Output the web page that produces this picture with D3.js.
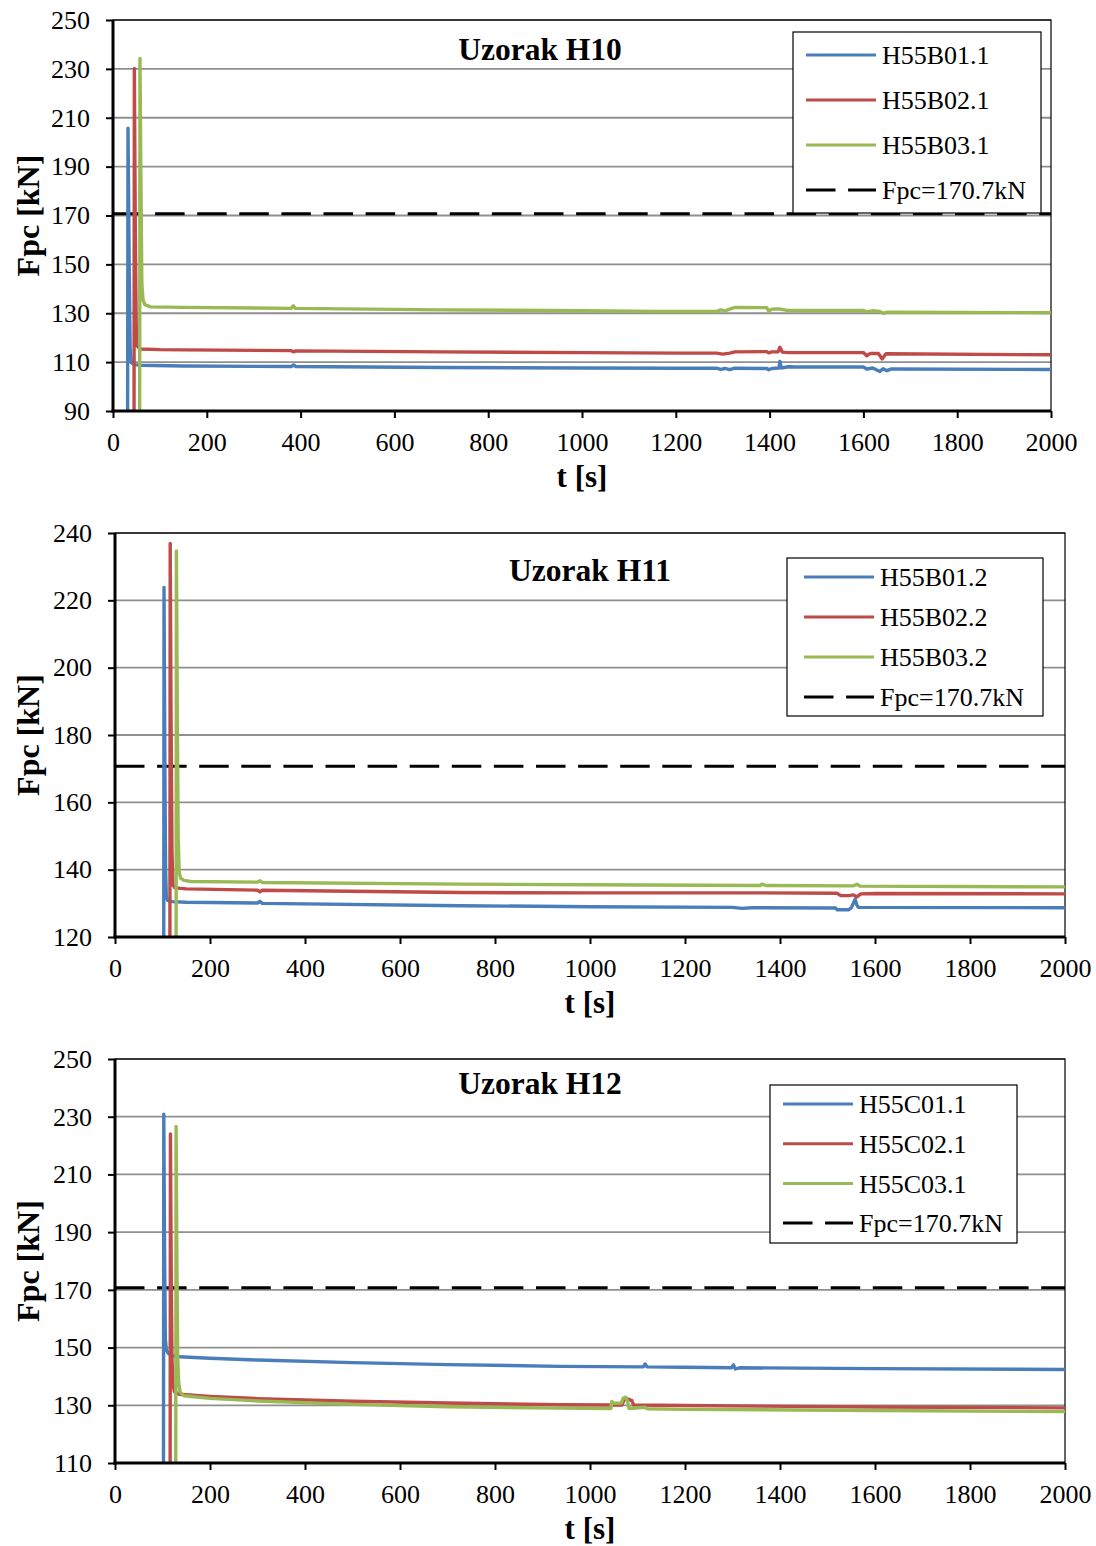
<!DOCTYPE html>
<html><head><meta charset="utf-8">
<script src="https://cdn.jsdelivr.net/npm/d3@7"></script>
<style>
body{margin:0;background:#fff}
svg text{font-family:"Liberation Serif","Times New Roman",serif;fill:#000}
</style>
</head><body>
<svg id="chart" width="1096" height="1546"></svg>
<script>
// ---------- data ----------
const xTicks = [0,200,400,600,800,1000,1200,1400,1600,1800,2000];
const yTicksH10 = [90,110,130,150,170,190,210,230,250];
const yTicksH11 = [120,140,160,180,200,220,240];
const yTicksH12 = [110,130,150,170,190,210,230,250];
const fpc = 170.7;
const fpcLabel = "Fpc=170.7kN";
const titles = ["Uzorak H10","Uzorak H11","Uzorak H12"];
const namesH10 = ["H55B01.1","H55B02.1","H55B03.1"];
const namesH11 = ["H55B01.2","H55B02.2","H55B03.2"];
const namesH12 = ["H55C01.1","H55C02.1","H55C03.1"];
const colors = ["#4a7ebb","#be4b48","#98b954"];

// [t (s), Fpc (kN)]
const h10_1 = [[30.5,0],[32,205.7],[34.5,150],[36.5,116],[39,109.8],[45,109],[60,108.7],[150,108.4],[380,108.2],[385,108.8],[390,108.2],[700,107.8],[1000,107.6],[1209,107.5],[1287,107.5],[1295,107.0],[1305,107.4],[1315,106.9],[1326,107.5],[1394,107.4],[1398,106.9],[1405,107.4],[1420,107.6],[1422,110.3],[1425,107.6],[1440,108.1],[1455,108.0],[1600,108.0],[1607,107.2],[1620,107.6],[1635,106.2],[1642,107.3],[1650,106.5],[1660,107.2],[2000,107.0]];
const h10_2 = [[44.5,0],[45.5,230.2],[47.5,165],[49.5,125],[52,116.5],[58,115.4],[100,115.1],[150,115.0],[380,114.7],[385,114.2],[390,114.6],[700,114.2],[1000,113.9],[1209,113.7],[1287,113.7],[1300,113.3],[1315,113.7],[1326,114.2],[1394,114.3],[1398,113.8],[1405,114.2],[1418,114.2],[1422,116.1],[1427,114.1],[1440,113.9],[1600,113.9],[1607,112.6],[1615,113.6],[1632,113.5],[1640,111.3],[1648,113.4],[2000,113.0]];
const h10_3 = [[56.5,0],[57.5,234.3],[59.5,185],[61.5,142],[64,135.5],[68,133.5],[80,132.6],[150,132.4],[380,132.0],[384.5,133.0],[389,132.0],[700,131.4],[1000,131.0],[1166,130.7],[1287,130.7],[1295,131.4],[1305,131.0],[1315,131.7],[1326,132.4],[1394,132.3],[1398,130.9],[1405,131.7],[1420,131.8],[1429,131.5],[1440,131.1],[1600,131.1],[1607,130.6],[1620,131.0],[1635,130.7],[1642,130.0],[1650,130.4],[2000,130.2]];

const h11_1 = [[102,0],[103.2,223.8],[105,170],[106.5,140],[108,132],[111,130.9],[120,130.5],[150,130.3],[300,130.1],[305,130.6],[310,130.0],[726,129.3],[1000,129.0],[1300,128.8],[1320,128.5],[1340,128.7],[1358,128.7],[1517,128.6],[1520,128.1],[1545,128.1],[1550,128.7],[1555,130.2],[1558,131.2],[1562,129.5],[1565,128.8],[2000,128.7]];
const h11_2 = [[115,0],[116.2,236.9],[118,185],[120,145],[122,135.5],[126,134.6],[150,134.3],[300,133.9],[305,133.4],[310,133.9],[726,133.2],[1000,133.1],[1358,133.1],[1520,133.0],[1528,132.3],[1545,132.3],[1555,132.5],[1562,131.9],[1570,132.8],[1600,132.9],[2000,132.8]];
const h11_3 = [[128,0],[129.3,234.7],[131,190],[133,150],[135,139.5],[138,137.5],[145,136.8],[160,136.5],[300,136.3],[305,136.7],[310,136.2],[726,135.7],[1000,135.5],[1358,135.3],[1362,135.7],[1370,135.3],[1555,135.2],[1562,135.7],[1568,135.1],[2000,134.9]];

const h12_1 = [[101.5,0],[102.7,230.9],[104.5,180],[106,153],[108,149.3],[112,148],[120,147.2],[135,146.8],[200,146.3],[300,145.7],[500,144.8],[700,144.1],[937,143.5],[1112,143.3],[1116,144.3],[1120,143.3],[1200,143.2],[1298,143.0],[1302,144.0],[1306,142.6],[1315,143.0],[1600,142.7],[2000,142.4]];
const h12_2 = [[115.5,0],[116.7,224.0],[118.5,172],[120,146],[122,137.5],[125,134.8],[135,133.8],[200,133.1],[300,132.3],[500,131.4],[700,130.8],[937,130.2],[1045,130.1],[1067,130.1],[1072,131.9],[1080,132.2],[1088,131.6],[1092,130.1],[1200,129.9],[1600,129.4],[2000,129.1]];
const h12_3 = [[127.3,0],[128.6,226.6],[130.5,175],[132,147],[134,138],[137,134.5],[145,133.3],[200,132.4],[300,131.5],[500,130.3],[700,129.5],[937,129.0],[1044,128.9],[1046,131.3],[1050,130.7],[1066,130.8],[1070,132.5],[1075,132.8],[1079,131.5],[1082,128.9],[1116,129.3],[1120,128.8],[1200,128.6],[1600,128.2],[2000,127.8]];

// ---------- layout ----------
const panels = [
  {title:titles[0], names:namesH10, series:[h10_1,h10_2,h10_3], yTicks:yTicksH10,
   L:113, R:1051, T:20, B:411, titleX:540, titleY:60,
   leg:{x:793,y:32,w:248,h:181,first:55,step:45,lx:13}},
  {title:titles[1], names:namesH11, series:[h11_1,h11_2,h11_3], yTicks:yTicksH11,
   L:115, R:1065, T:533, B:937, titleX:590, titleY:581,
   leg:{x:787,y:558,w:256,h:158,first:577,step:40,lx:17}},
  {title:titles[2], names:namesH12, series:[h12_1,h12_2,h12_3], yTicks:yTicksH12,
   L:115, R:1065, T:1059, B:1463, titleX:540, titleY:1094,
   leg:{x:770,y:1085,w:247,h:158,first:1104,step:39.7,lx:13}}
];

const svg = d3.select("#chart");
const DASH = "29.5,12.6";

panels.forEach((p, i) => {
  const g = svg.append("g");
  const x = d3.scaleLinear().domain([0,2000]).range([p.L,p.R]);
  const y = d3.scaleLinear().domain([p.yTicks[0], p.yTicks[p.yTicks.length-1]]).range([p.B,p.T]);

  // gridlines
  g.selectAll("line.grid").data(p.yTicks.slice(1)).join("line")
    .attr("x1",p.L).attr("x2",p.R).attr("y1",d=>y(d)).attr("y2",d=>y(d))
    .attr("stroke","#8f8f8f").attr("stroke-width",1.8);

  // frame
  g.append("rect").attr("x",p.L).attr("y",p.T).attr("width",p.R-p.L).attr("height",p.B-p.T)
    .attr("fill","none").attr("stroke","#000").attr("stroke-width",1.2);

  // clip
  const cid = "clip"+i;
  svg.append("clipPath").attr("id",cid).append("rect")
    .attr("x",p.L).attr("y",p.T).attr("width",p.R-p.L).attr("height",p.B-p.T);

  // Fpc line
  g.append("line").attr("x1",x(0)).attr("x2",x(2000)).attr("y1",y(fpc)).attr("y2",y(fpc))
    .attr("stroke","#000").attr("stroke-width",3).attr("stroke-dasharray",DASH);

  // series
  const line = d3.line().x(d=>x(d[0])).y(d=>y(d[1]));
  const sg = g.append("g").attr("clip-path",`url(#${cid})`);
  p.series.forEach((s,k)=>{
    sg.append("path").attr("d",line(s)).attr("fill","none")
      .attr("stroke",colors[k]).attr("stroke-width",3.4)
      .attr("stroke-linejoin","round").attr("stroke-linecap","round");
  });

  // axes
  const ax = g.append("g").attr("transform",`translate(0,${p.B})`)
    .call(d3.axisBottom(x).tickValues(xTicks).tickFormat(d3.format("d")).tickSize(7).tickPadding(15));
  const ay = g.append("g").attr("transform",`translate(${p.L},0)`)
    .call(d3.axisLeft(y).tickValues(p.yTicks).tickFormat(d3.format("d")).tickSize(7).tickPadding(16));
  [ax,ay].forEach(a=>{
    a.select(".domain").attr("stroke","#000").attr("stroke-width",3);
    a.selectAll(".tick line").attr("stroke","#000").attr("stroke-width",2);
    a.selectAll(".tick text").attr("font-size",26).attr("font-family","Liberation Serif").attr("fill","#000");
  });
  ax.select(".domain").attr("d",`M${p.L-1.5},0H${p.R}`);
  ay.select(".domain").attr("d",`M0,${p.T}V${p.B+1.5}`);

  // titles
  g.append("text").attr("x",p.titleX).attr("y",p.titleY).attr("text-anchor","middle")
    .attr("font-size",31.5).attr("font-weight","bold").text(p.title);
  g.append("text").attr("x",(p.L+p.R)/2).attr("y",p.B+76).attr("text-anchor","middle")
    .attr("font-size",31).attr("font-weight","bold").text("t [s]");
  g.append("text").attr("transform",`translate(39,${(p.T+p.B)/2}) rotate(-90)`)
    .attr("text-anchor","middle").attr("font-size",32).attr("font-weight","bold").text("Fpc [kN]");

  // legend
  const lg = p.leg;
  g.append("rect").attr("x",lg.x).attr("y",lg.y).attr("width",lg.w).attr("height",lg.h)
    .attr("fill","#fff").attr("stroke","#000").attr("stroke-width",1.2);
  const items = p.names.map((n,k)=>({n, c:colors[k], dash:null})).concat([{n:fpcLabel,c:"#000",dash:DASH}]);
  items.forEach((it,k)=>{
    const yy = lg.first + k*lg.step;
    g.append("line").attr("x1",lg.x+lg.lx).attr("x2",lg.x+lg.lx+70).attr("y1",yy).attr("y2",yy)
      .attr("stroke",it.c).attr("stroke-width",3).attr("stroke-dasharray",it.dash);
    g.append("text").attr("x",lg.x+lg.lx+76).attr("y",yy).attr("dy","0.35em")
      .attr("font-size",26).text(it.n);
  });
});
</script>
</body></html>
